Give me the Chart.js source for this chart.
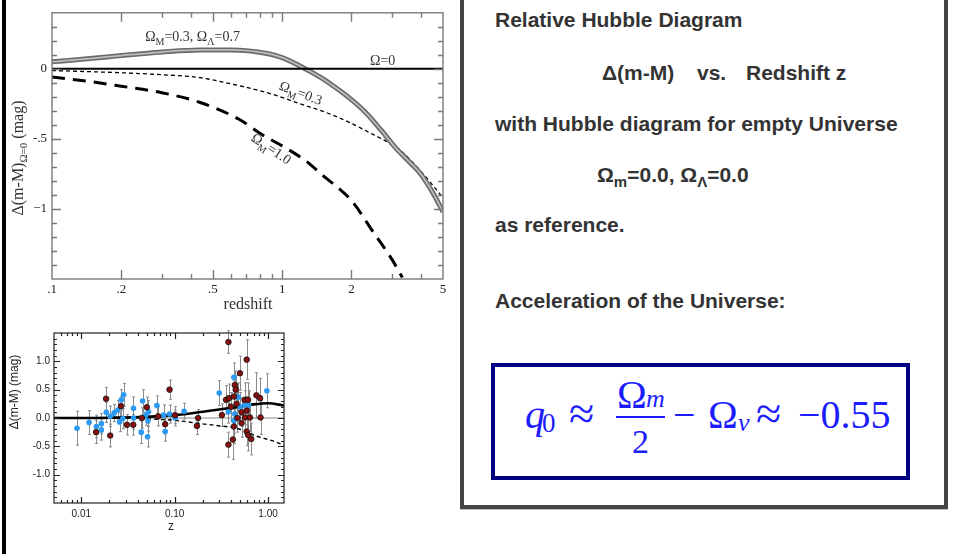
<!DOCTYPE html>
<html>
<head>
<meta charset="utf-8">
<script src="https://cdn.jsdelivr.net/npm/chart.js@4.4.0/dist/chart.umd.min.js"></script>
<style>
  body { margin: 0; width: 953px; height: 554px; position: relative; overflow: hidden; background: #fff; }
  #leftbar { position: absolute; left: 2px; top: 0; width: 4px; height: 554px; background: #000; }
  #topChart { position: absolute; left: 0; top: 0; }
  #botChart { position: absolute; left: 0; top: 320px; }
  #panel { position: absolute; left: 460px; top: -10px; width: 488px; height: 519px; box-sizing: border-box;
           border: 4px solid #444; box-shadow: 0 1px 0 #bbb; }
  #qbox { position: absolute; left: 491px; top: 363px; width: 419px; height: 117px; box-sizing: border-box;
          border: 4px solid #000080; }
  #fracbar { position: absolute; left: 616px; top: 416px; width: 49px; height: 2px; background: #1c1cff; }
  .t { position: absolute; white-space: pre; }
</style>
</head>
<body>
<div id="leftbar"></div>
<canvas id="topChart" width="460" height="320"></canvas>
<canvas id="botChart" width="300" height="234"></canvas>
<div id="panel"></div>
<div id="qbox"></div>
<div id="fracbar"></div>

<script>
// ---------------------------------------------------------------------------
// DATA: relative Hubble diagram (top panel)
// ---------------------------------------------------------------------------
const flatZ  = [0.1, 5];
const flatDm = [0, 0];

const lcdmZ  = [0.1, 0.15, 0.2, 0.3, 0.44, 0.6, 0.86, 1.0, 1.23, 1.5, 1.66, 2.0, 2.3, 2.7, 3.1, 3.6, 4.0, 4.5, 5.0];
const lcdmDm = [0.05, 0.075, 0.095, 0.12, 0.135, 0.135, 0.11, 0.08, 0.01, -0.07, -0.12, -0.22, -0.31, -0.44, -0.56, -0.67, -0.75, -0.88, -1.02];

const openZ  = [0.1, 0.2, 0.3, 0.44, 0.61, 0.86, 1.2, 1.66, 2.3, 3.3, 4.0, 5.0];
const openDm = [-0.012, -0.028, -0.042, -0.063, -0.11, -0.17, -0.25, -0.33, -0.44, -0.59, -0.73, -0.92];

const edsZ   = [0.1, 0.15, 0.2, 0.3, 0.44, 0.65, 0.8, 1.0, 1.25, 1.5, 2.0, 2.5, 3.0, 3.33];
const edsDm  = [-0.058, -0.093, -0.124, -0.17, -0.24, -0.36, -0.46, -0.55, -0.65, -0.76, -0.94, -1.17, -1.36, -1.49];

const topXLabels = [0.1, 0.2, 0.5, 1, 2, 5];
const topXText   = ['.1', '.2', '.5', '1', '2', '5'];
const topXTicks  = [0.2, 0.3, 0.4, 0.5, 0.6, 0.7, 0.8, 0.9, 1, 2, 3, 4];
const topYLabels = [-1, -0.5, 0];
const topYText   = ['\u22121', '-.5', '0'];
const topYTicks  = [-1.4, -1.3, -1.2, -1.1, -1, -0.9, -0.8, -0.7, -0.6, -0.5, -0.4, -0.3, -0.2, -0.1, 0, 0.1, 0.2, 0.3];

// ---------------------------------------------------------------------------
// DATA: supernova residuals (bottom panel)
// ---------------------------------------------------------------------------
const zeroZ  = [0.0051, 1.48];
const zeroDm = [0, 0];

const lamZ   = [0.0051, 0.01, 0.02, 0.05, 0.1, 0.2, 0.3, 0.5, 0.7, 1.0, 1.48];
const lamDm  = [0.0, 0.0, 0.005, 0.02, 0.05, 0.11, 0.15, 0.2, 0.24, 0.26, 0.22];

const matZ   = [0.03, 0.06, 0.1, 0.17, 0.27, 0.48, 0.72, 1.1, 1.48];
const matDm  = [0, -0.02, -0.04, -0.09, -0.13, -0.19, -0.31, -0.4, -0.48];

const blueZ   = [0.009, 0.0121, 0.0145, 0.0164, 0.0164, 0.0185, 0.0204, 0.0225, 0.0247, 0.0268, 0.0284, 0.0257, 0.0279,
                 0.0362, 0.0362, 0.0438, 0.0453, 0.0524, 0.049, 0.0517, 0.0512, 0.0644, 0.0759, 0.0791, 0.0881, 0.101,
                 0.126, 0.30, 0.376, 0.43, 0.48, 0.44, 0.43, 0.50, 0.566, 0.62, 0.97];
const blueDm  = [-0.18, -0.08, -0.15, -0.10, -0.21, 0.10, 0.03, 0.09, 0.14, 0.32, 0.41, -0.07, -0.01,
                 0.17, 0.00, -0.25, 0.30, 0.11, 0.05, -0.05, -0.33, 0.22, 0.05, -0.24, 0.07, 0.00,
                 0.12, 0.44, 0.11, 0.72, 0.37, 0.07, -0.05, 0.20, 0.23, 0.23, 0.48];
const blueErr = [0.30, 0.21, 0.20, 0.18, 0.18, 0.18, 0.18, 0.15, 0.17, 0.18, 0.20, 0.17, 0.18,
                 0.20, 0.20, 0.20, 0.20, 0.20, 0.18, 0.18, 0.18, 0.17, 0.18, 0.17, 0.16, 0.14,
                 0.14, 0.22, 0.20, 0.25, 0.25, 0.22, 0.22, 0.25, 0.25, 0.25, 0.30];

const redZ   = [0.0144, 0.0184, 0.0204, 0.0266, 0.0308, 0.036, 0.0445, 0.0503, 0.0665, 0.079, 0.0881, 0.101, 0.173, 0.178,
                0.32, 0.376, 0.376, 0.354, 0.381, 0.44, 0.45, 0.43, 0.50, 0.59, 0.43, 0.42, 0.47, 0.56, 0.61, 0.59,
                0.566, 0.52, 0.59, 0.61, 0.66, 0.75, 0.82, 0.83, 0.64, 0.52, 0.40, 0.46];
const redDm  = [-0.25, 0.34, -0.31, 0.21, -0.12, -0.12, 0.00, 0.19, 0.03, -0.11, 0.50, 0.05, -0.14, 0.00,
                0.05, 1.34, -0.47, 0.32, 0.35, 0.58, 0.50, 0.38, 0.79, 1.03, -0.15, -0.38, 0.00, 0.32, 0.32, 0.13,
                0.01, -0.09, -0.24, -0.30, -0.37, 0.40, 0.35, 0.01, 0.01, 0.10, 0.20, 0.25];
const redErr = [0.20, 0.20, 0.20, 0.18, 0.18, 0.18, 0.18, 0.18, 0.17, 0.17, 0.17, 0.15, 0.15, 0.15,
                0.20, 0.20, 0.22, 0.25, 0.25, 0.25, 0.25, 0.28, 0.30, 0.35, 0.30, 0.35, 0.25, 0.30, 0.30, 0.25,
                0.25, 0.25, 0.25, 0.28, 0.28, 0.40, 0.35, 0.30, 0.25, 0.25, 0.25, 0.30];

const botXLabels = [0.01, 0.1, 1];
const botXText   = ['0.01', '0.10', '1.00'];
const botXTicks  = [0.006, 0.007, 0.008, 0.009, 0.01, 0.02, 0.03, 0.04, 0.05, 0.06, 0.07, 0.08, 0.09,
                    0.1, 0.2, 0.3, 0.4, 0.5, 0.6, 0.7, 0.8, 0.9, 1];
const botYLabels = [-1, -0.5, 0, 0.5, 1];
const botYText   = ['-1.0', '-0.5', '0.0', '0.5', '1.0'];
const botYTicks  = [-1.4, -1.3, -1.2, -1.1, -1, -0.9, -0.8, -0.7, -0.6, -0.5, -0.4, -0.3, -0.2, -0.1, 0,
                    0.1, 0.2, 0.3, 0.4, 0.5, 0.6, 0.7, 0.8, 0.9, 1, 1.1, 1.2, 1.3, 1.4];

// ---------------------------------------------------------------------------
// HELPERS
// ---------------------------------------------------------------------------
const SERIF = '"Liberation Serif", "Times New Roman", serif';
const SANS  = '"Liberation Sans", Arial, sans-serif';

const pts = (xs, ys) => xs.map((x, i) => ({ x, y: ys[i] }));

// text with subscripts: parts = [[text, isSub], ...]
function drawParts(ctx, parts, x, y, rot, size, family, color, align) {
  ctx.save();
  ctx.translate(x, y);
  ctx.rotate(rot * Math.PI / 180);
  ctx.fillStyle = color;
  ctx.textBaseline = 'alphabetic';
  const sub = Math.round(size * 0.7);
  let w = 0;
  parts.forEach(([t, s]) => { ctx.font = `${s ? sub : size}px ${family}`; w += ctx.measureText(t).width; });
  let cx = align === 'center' ? -w / 2 : 0;
  parts.forEach(([t, s]) => {
    ctx.font = `${s ? sub : size}px ${family}`;
    ctx.fillText(t, cx, s ? size * 0.28 : 0);
    cx += ctx.measureText(t).width;
  });
  ctx.restore();
}

// frame + inward ticks on all four sides
function frameTicks(cfg) {
  return {
    id: 'frameTicks',
    afterDatasetsDraw(chart) {
      const { ctx, chartArea: a, scales: { x, y } } = chart;
      ctx.save();
      ctx.strokeStyle = cfg.color;
      ctx.lineWidth = cfg.width;
      ctx.strokeRect(a.left, a.top, a.right - a.left, a.bottom - a.top);
      ctx.beginPath();
      cfg.xTicks.forEach(v => {
        const px = Math.round(x.getPixelForValue(v)) + 0.5;
        const len = cfg.xMajor.includes(v) ? cfg.major : cfg.minor;
        ctx.moveTo(px, a.bottom); ctx.lineTo(px, a.bottom - len);
        ctx.moveTo(px, a.top); ctx.lineTo(px, a.top + len);
      });
      cfg.yTicks.forEach(v => {
        const py = Math.round(y.getPixelForValue(v)) + 0.5;
        const len = cfg.yMajor.includes(v) ? cfg.major : cfg.minor;
        ctx.moveTo(a.left, py); ctx.lineTo(a.left + len, py);
        ctx.moveTo(a.right, py); ctx.lineTo(a.right - len, py);
      });
      ctx.stroke();
      ctx.restore();
    }
  };
}

// ---------------------------------------------------------------------------
// TOP CHART
// ---------------------------------------------------------------------------
const topNotes = {
  id: 'topNotes',
  afterDatasetsDraw(chart) {
    const { ctx, scales: { x, y } } = chart;
    const c = '#333';
    drawParts(ctx, [['Ω', 0], ['M', 1], ['=0.3, ', 0], ['Ω', 0], ['Λ', 1], ['=0.7', 0]],
      x.getPixelForValue(0.254), y.getPixelForValue(0.2), 0, 14, SERIF, c, 'left');
    drawParts(ctx, [['Ω=0', 0]], x.getPixelForValue(2.41), y.getPixelForValue(0.03), 0, 14, SERIF, c, 'left');
    drawParts(ctx, [['Ω', 0], ['M', 1], ['=0.3', 0]],
      x.getPixelForValue(0.962), y.getPixelForValue(-0.146), 21, 14, SERIF, c, 'left');
    drawParts(ctx, [['Ω', 0], ['M', 1], ['=1.0', 0]],
      x.getPixelForValue(0.726), y.getPixelForValue(-0.507), 34, 14, SERIF, c, 'left');
    // axis titles
    drawParts(ctx, [['Δ(m-M)', 0], ['Ω=0', 1], [' (mag)', 0]], 23, 158, -90, 16, SERIF, c, 'center');
    drawParts(ctx, [['redshift', 0]], 248, 309, 0, 16, SERIF, c, 'center');
  }
};

new Chart(document.getElementById('topChart'), {
  type: 'line',
  data: {
    datasets: [
      { data: pts(flatZ, flatDm), borderColor: '#000', borderWidth: 2 },
      { data: pts(lcdmZ, lcdmDm), borderColor: '#bdbdbd', borderWidth: 1.8 },
      { data: pts(lcdmZ, lcdmDm), borderColor: '#6a6a6a', borderWidth: 5 },
      { data: pts(openZ, openDm), borderColor: '#000', borderWidth: 1.3, borderDash: [4, 3] },
      { data: pts(edsZ, edsDm), borderColor: '#000', borderWidth: 3, borderDash: [13, 8] }
    ]
  },
  options: {
    responsive: false,
    animation: false,
    layout: { padding: { top: 9, right: 17, left: 0, bottom: 0 } },
    elements: { point: { radius: 0 }, line: { tension: 0.4, cubicInterpolationMode: 'monotone', fill: false } },
    plugins: { legend: { display: false }, tooltip: { enabled: false } },
    scales: {
      x: {
        type: 'logarithmic', min: 0.1, max: 5,
        afterBuildTicks: s => { s.ticks = topXLabels.map(v => ({ value: v })); },
        afterFit: s => { s.height = 41; },
        ticks: { autoSkip: false, maxRotation: 0, padding: 3, color: '#222', font: { family: SERIF, size: 13 },
                 callback: v => topXText[topXLabels.indexOf(v)] },
        grid: { display: false, drawTicks: false },
        border: { display: false }
      },
      y: {
        min: -1.5, max: 0.4,
        afterBuildTicks: s => { s.ticks = topYLabels.map(v => ({ value: v })); },
        afterFit: s => { s.width = 52; },
        ticks: { padding: 5, color: '#222', font: { family: SERIF, size: 13 },
                 callback: v => topYText[topYLabels.indexOf(v)] },
        grid: { display: false, drawTicks: false },
        border: { display: false }
      }
    }
  },
  plugins: [
    frameTicks({ color: '#7a7a7a', width: 1.4, minor: 5, major: 9,
                 xTicks: topXTicks, xMajor: topXLabels, yTicks: topYTicks, yMajor: topYLabels }),
    topNotes
  ]
});

// ---------------------------------------------------------------------------
// BOTTOM CHART
// ---------------------------------------------------------------------------
const errorBars = {
  id: 'errorBars',
  beforeDatasetsDraw(chart) {
    const { ctx, scales: { y } } = chart;
    ctx.save();
    ctx.strokeStyle = '#8c8c8c';
    ctx.lineWidth = 1;
    chart.data.datasets.forEach((ds, i) => {
      if (!ds.errs) return;
      const meta = chart.getDatasetMeta(i);
      meta.data.forEach((el, j) => {
        const v = ds.data[j].y, e = ds.errs[j];
        const y1 = y.getPixelForValue(v + e), y2 = y.getPixelForValue(v - e);
        const px = Math.round(el.x) + 0.5;
        ctx.beginPath();
        ctx.moveTo(px, y1); ctx.lineTo(px, y2);
        ctx.moveTo(px - 1.5, y1); ctx.lineTo(px + 1.5, y1);
        ctx.moveTo(px - 1.5, y2); ctx.lineTo(px + 1.5, y2);
        ctx.stroke();
      });
    });
    ctx.restore();
  }
};

const botNotes = {
  id: 'botNotes',
  afterDatasetsDraw(chart) {
    const { ctx } = chart;
    drawParts(ctx, [['Δ(m-M) (mag)', 0]], 18, 72, -90, 12, SANS, '#222', 'center');
    drawParts(ctx, [['z', 0]], 171, 210, 0, 12, SANS, '#222', 'center');
  }
};

new Chart(document.getElementById('botChart'), {
  type: 'scatter',
  data: {
    datasets: [
      { data: pts(redZ, redDm), errs: redErr, backgroundColor: '#8a0f0f', borderColor: '#111',
        pointRadius: 2.8, borderWidth: 0.8 },
      { data: pts(blueZ, blueDm), errs: blueErr, backgroundColor: '#2c9af2', borderColor: '#2c9af2',
        pointRadius: 2.8, borderWidth: 0 },
      { type: 'line', data: pts(lamZ, lamDm), borderColor: '#000', borderWidth: 2.6, pointRadius: 0,
        tension: 0.4, cubicInterpolationMode: 'monotone' },
      { type: 'line', data: pts(matZ, matDm), borderColor: '#000', borderWidth: 1.4, borderDash: [4, 3],
        pointRadius: 0, tension: 0.4, cubicInterpolationMode: 'monotone' },
      { type: 'line', data: pts(zeroZ, zeroDm), borderColor: '#888', borderWidth: 1.2, pointRadius: 0 }
    ]
  },
  options: {
    responsive: false,
    animation: false,
    layout: { padding: { top: 13, right: 16, left: 0, bottom: 0 } },
    plugins: { legend: { display: false }, tooltip: { enabled: false } },
    scales: {
      x: {
        type: 'logarithmic', min: 0.0051, max: 1.48,
        afterBuildTicks: s => { s.ticks = botXLabels.map(v => ({ value: v })); },
        afterFit: s => { s.height = 51; },
        ticks: { autoSkip: false, maxRotation: 0, padding: 5, color: '#222', font: { family: SANS, size: 10 },
                 callback: v => botXText[botXLabels.indexOf(v)] },
        grid: { display: false, drawTicks: false },
        border: { display: false }
      },
      y: {
        min: -1.5, max: 1.5,
        afterBuildTicks: s => { s.ticks = botYLabels.map(v => ({ value: v })); },
        afterFit: s => { s.width = 54; },
        ticks: { padding: 4, color: '#222', font: { family: SANS, size: 10 },
                 callback: v => botYText[botYLabels.indexOf(v)] },
        grid: { display: false, drawTicks: false },
        border: { display: false }
      }
    }
  },
  plugins: [
    errorBars,
    frameTicks({ color: '#222', width: 1.2, minor: 3, major: 6,
                 xTicks: botXTicks, xMajor: botXLabels, yTicks: botYTicks, yMajor: botYLabels }),
    botNotes
  ]
});

// ---------------------------------------------------------------------------
// RIGHT PANEL TEXT
// ---------------------------------------------------------------------------
function put(html, x, base, size, family, style, color) {
  const k = family === SERIF ? 0.8375 : 0.8465;
  const el = document.createElement('div');
  el.className = 't';
  el.innerHTML = html;
  el.style.left = x + 'px';
  el.style.top = (base - k * size) + 'px';
  el.style.font = `${style || ''} ${size}px ${family}`;
  el.style.lineHeight = size + 'px';
  el.style.color = color || '#333';
  document.body.appendChild(el);
}

const sub = t => `<span style="font-size:15px;position:relative;top:5px">${t}</span>`;
put('Relative Hubble Diagram', 495, 27, 21, SANS, 'bold');
put('Δ(m-M)', 602, 80, 21, SANS, 'bold');
put('vs.', 697, 80, 21, SANS, 'bold');
put('Redshift z', 746, 80, 21, SANS, 'bold');
put('with Hubble diagram for empty Universe', 495, 131, 21, SANS, 'bold');
put(`Ω${sub('m')}=0.0, Ω${sub('Λ')}=0.0`, 597, 182, 21, SANS, 'bold');
put('as reference.', 495, 232, 21, SANS, 'bold');
put('Acceleration of the Universe:', 495, 308, 21, SANS, 'bold');

// formula
const BLUE = '#1c1cff';
put('q', 525, 428, 40, SERIF, 'italic', BLUE);
put('0', 542, 433, 27, SERIF, '', BLUE);
put('≈', 569, 430, 46, SERIF, '', BLUE);
put('Ω', 617, 408, 40, SERIF, '', BLUE);
put('m', 646, 408, 26, SERIF, 'italic', BLUE);
put('2', 632, 453, 34, SERIF, '', BLUE);
put('−', 673, 428, 40, SERIF, '', BLUE);
put('Ω', 708, 428, 40, SERIF, '', BLUE);
put('v', 738, 432, 26, SERIF, 'italic', BLUE);
put('≈', 756, 430, 46, SERIF, '', BLUE);
put('−0.55', 798, 428, 40, SERIF, '', BLUE);
</script>
</body>
</html>
